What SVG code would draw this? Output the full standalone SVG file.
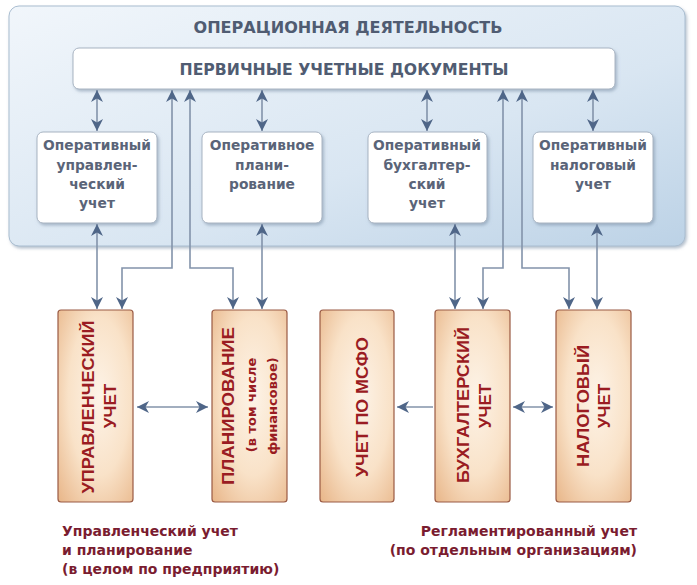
<svg xmlns="http://www.w3.org/2000/svg" width="697" height="585" viewBox="0 0 697 585">
<defs>
<linearGradient id="panelG" x1="0" y1="0" x2="1" y2="1">
<stop offset="0" stop-color="#f1f6fb"/>
<stop offset="0.6" stop-color="#d9e6f2"/>
<stop offset="1" stop-color="#bcd2e6"/>
</linearGradient>
<radialGradient id="boxG" cx="0.55" cy="0.45" r="0.75">
<stop offset="0" stop-color="#fdf3e7"/>
<stop offset="0.55" stop-color="#f9e2c8"/>
<stop offset="1" stop-color="#e9b88c"/>
</radialGradient>
<filter id="sh" x="-10%" y="-10%" width="130%" height="130%">
<feDropShadow dx="1.5" dy="2" stdDeviation="1.5" flood-color="#7a8ea6" flood-opacity="0.55"/>
</filter>
<marker id="ah" markerUnits="userSpaceOnUse" markerWidth="13" markerHeight="13" viewBox="0 0 13 13" refX="12" refY="6.5" orient="auto-start-reverse">
<path d="M0,0.5 L12,6.5 L0,12.5 L3.5,6.5 z" fill="#4f6688"/>
</marker>
<style>
.wb{fill:#ffffff;stroke:#a8b4c2;stroke-width:1}
.ob{fill:url(#boxG);stroke:#9a5a44;stroke-width:1.2}
.t1{font-family:"DejaVu Sans",sans-serif;font-weight:bold;fill:#505c72;text-anchor:middle}
.st{font-family:"DejaVu Sans",sans-serif;font-weight:bold;font-size:13.8px;fill:#5a6478;text-anchor:middle}
.vt{font-family:"Liberation Sans",Arial,sans-serif;font-weight:bold;font-size:17px;fill:#9a1c22;text-anchor:middle}
.vs{font-family:"DejaVu Sans",sans-serif;font-weight:bold;font-size:13px;fill:#9a1c22;text-anchor:middle}
.cap{font-family:"DejaVu Sans",sans-serif;font-weight:bold;font-size:14px;fill:#7a1c30}
.cn{fill:none;stroke:#8393aa;stroke-width:1.6}
</style>
</defs>
<rect width="697" height="585" fill="#ffffff"/>

<g id="panel">
<rect x="9" y="6" width="676" height="240" rx="10" fill="url(#panelG)" stroke="#a9bdd0" stroke-width="1" filter="url(#sh)"/>
<text class="t1" x="348" y="33" font-size="15.5" textLength="309" lengthAdjust="spacingAndGlyphs">ОПЕРАЦИОННАЯ ДЕЯТЕЛЬНОСТЬ</text>
</g>

<g id="docs">
<rect class="wb" x="73" y="48" width="542" height="41" rx="6" filter="url(#sh)"/>
<text class="t1" x="344" y="75" font-size="15.5" textLength="329" lengthAdjust="spacingAndGlyphs">ПЕРВИЧНЫЕ УЧЕТНЫЕ ДОКУМЕНТЫ</text>
</g>

<g id="op1">
<rect class="wb" x="37" y="132" width="120" height="91" rx="6" filter="url(#sh)"/>
<text class="st" x="97" y="150">Оперативный</text>
<text class="st" x="97" y="170">управлен-</text>
<text class="st" x="97" y="189">ческий</text>
<text class="st" x="97" y="208">учет</text>
</g>
<g id="op2">
<rect class="wb" x="202" y="132" width="120" height="91" rx="6" filter="url(#sh)"/>
<text class="st" x="262" y="150">Оперативное</text>
<text class="st" x="262" y="170">плани-</text>
<text class="st" x="262" y="189">рование</text>
</g>
<g id="op3">
<rect class="wb" x="368" y="132" width="119" height="91" rx="6" filter="url(#sh)"/>
<text class="st" x="427" y="150">Оперативный</text>
<text class="st" x="427" y="170">бухгалтер-</text>
<text class="st" x="427" y="189">ский</text>
<text class="st" x="427" y="208">учет</text>
</g>
<g id="op4">
<rect class="wb" x="533" y="132" width="120" height="91" rx="6" filter="url(#sh)"/>
<text class="st" x="593" y="150">Оперативный</text>
<text class="st" x="593" y="170">налоговый</text>
<text class="st" x="593" y="189">учет</text>
</g>

<g id="connectors">
<line class="cn" x1="97" y1="90" x2="97" y2="131" marker-start="url(#ah)" marker-end="url(#ah)"/>
<line class="cn" x1="262" y1="90" x2="262" y2="131" marker-start="url(#ah)" marker-end="url(#ah)"/>
<line class="cn" x1="427" y1="90" x2="427" y2="131" marker-start="url(#ah)" marker-end="url(#ah)"/>
<line class="cn" x1="593" y1="90" x2="593" y2="131" marker-start="url(#ah)" marker-end="url(#ah)"/>
<polyline class="cn" points="122,309 122,268 172,268 172,90" marker-start="url(#ah)" marker-end="url(#ah)"/>
<polyline class="cn" points="233,309 233,268 190,268 190,90" marker-start="url(#ah)" marker-end="url(#ah)"/>
<polyline class="cn" points="483,309 483,268 503,268 503,90" marker-start="url(#ah)" marker-end="url(#ah)"/>
<polyline class="cn" points="569,309 569,268 522,268 522,90" marker-start="url(#ah)" marker-end="url(#ah)"/>
<line class="cn" x1="97" y1="224" x2="97" y2="309" marker-start="url(#ah)" marker-end="url(#ah)"/>
<line class="cn" x1="262" y1="224" x2="262" y2="309" marker-start="url(#ah)" marker-end="url(#ah)"/>
<line class="cn" x1="455" y1="224" x2="455" y2="309" marker-start="url(#ah)" marker-end="url(#ah)"/>
<line class="cn" x1="597" y1="224" x2="597" y2="309" marker-start="url(#ah)" marker-end="url(#ah)"/>
<line class="cn" x1="137" y1="407" x2="208" y2="407" marker-start="url(#ah)" marker-end="url(#ah)"/>
<line class="cn" x1="433" y1="407" x2="397" y2="407" marker-end="url(#ah)"/>
<line class="cn" x1="513" y1="407" x2="553" y2="407" marker-start="url(#ah)" marker-end="url(#ah)"/>
</g>

<g id="upr">
<rect class="ob" x="58" y="310" width="75" height="192" rx="3"/>
<text class="vt" transform="translate(88,407) rotate(-90)" dy="0.36em" textLength="173" lengthAdjust="spacingAndGlyphs">УПРАВЛЕНЧЕСКИЙ</text>
<text class="vt" transform="translate(110,406) rotate(-90)" dy="0.36em">УЧЕТ</text>
</g>
<g id="plan">
<rect class="ob" x="212" y="310" width="75" height="192" rx="3"/>
<text class="vt" transform="translate(228,406) rotate(-90)" dy="0.36em" textLength="158" lengthAdjust="spacingAndGlyphs">ПЛАНИРОВАНИЕ</text>
<text class="vs" transform="translate(251,405) rotate(-90)" dy="0.36em">(в том числе</text>
<text class="vs" transform="translate(272,406) rotate(-90)" dy="0.36em">финансовое)</text>
</g>
<g id="msfo">
<rect class="ob" x="320" y="310" width="74" height="192" rx="3"/>
<text class="vt" transform="translate(362,407) rotate(-90)" dy="0.36em" textLength="140" lengthAdjust="spacingAndGlyphs">УЧЕТ ПО МСФО</text>
</g>
<g id="buh">
<rect class="ob" x="435" y="310" width="75" height="192" rx="3"/>
<text class="vt" transform="translate(463,405) rotate(-90)" dy="0.36em" textLength="156" lengthAdjust="spacingAndGlyphs">БУХГАЛТЕРСКИЙ</text>
<text class="vt" transform="translate(485,406) rotate(-90)" dy="0.36em">УЧЕТ</text>
</g>
<g id="nalog">
<rect class="ob" x="556" y="310" width="75" height="192" rx="3"/>
<text class="vt" transform="translate(583,406) rotate(-90)" dy="0.36em" textLength="122" lengthAdjust="spacingAndGlyphs">НАЛОГОВЫЙ</text>
<text class="vt" transform="translate(604,406) rotate(-90)" dy="0.36em">УЧЕТ</text>
</g>

<g id="caption-left">
<text class="cap" x="62" y="536">Управленческий учет</text>
<text class="cap" x="62" y="555">и планирование</text>
<text class="cap" x="62" y="574">(в целом по предприятию)</text>
</g>
<g id="caption-right">
<text class="cap" x="637" y="536" text-anchor="end">Регламентированный учет</text>
<text class="cap" x="637" y="555" text-anchor="end">(по отдельным организациям)</text>
</g>
</svg>
